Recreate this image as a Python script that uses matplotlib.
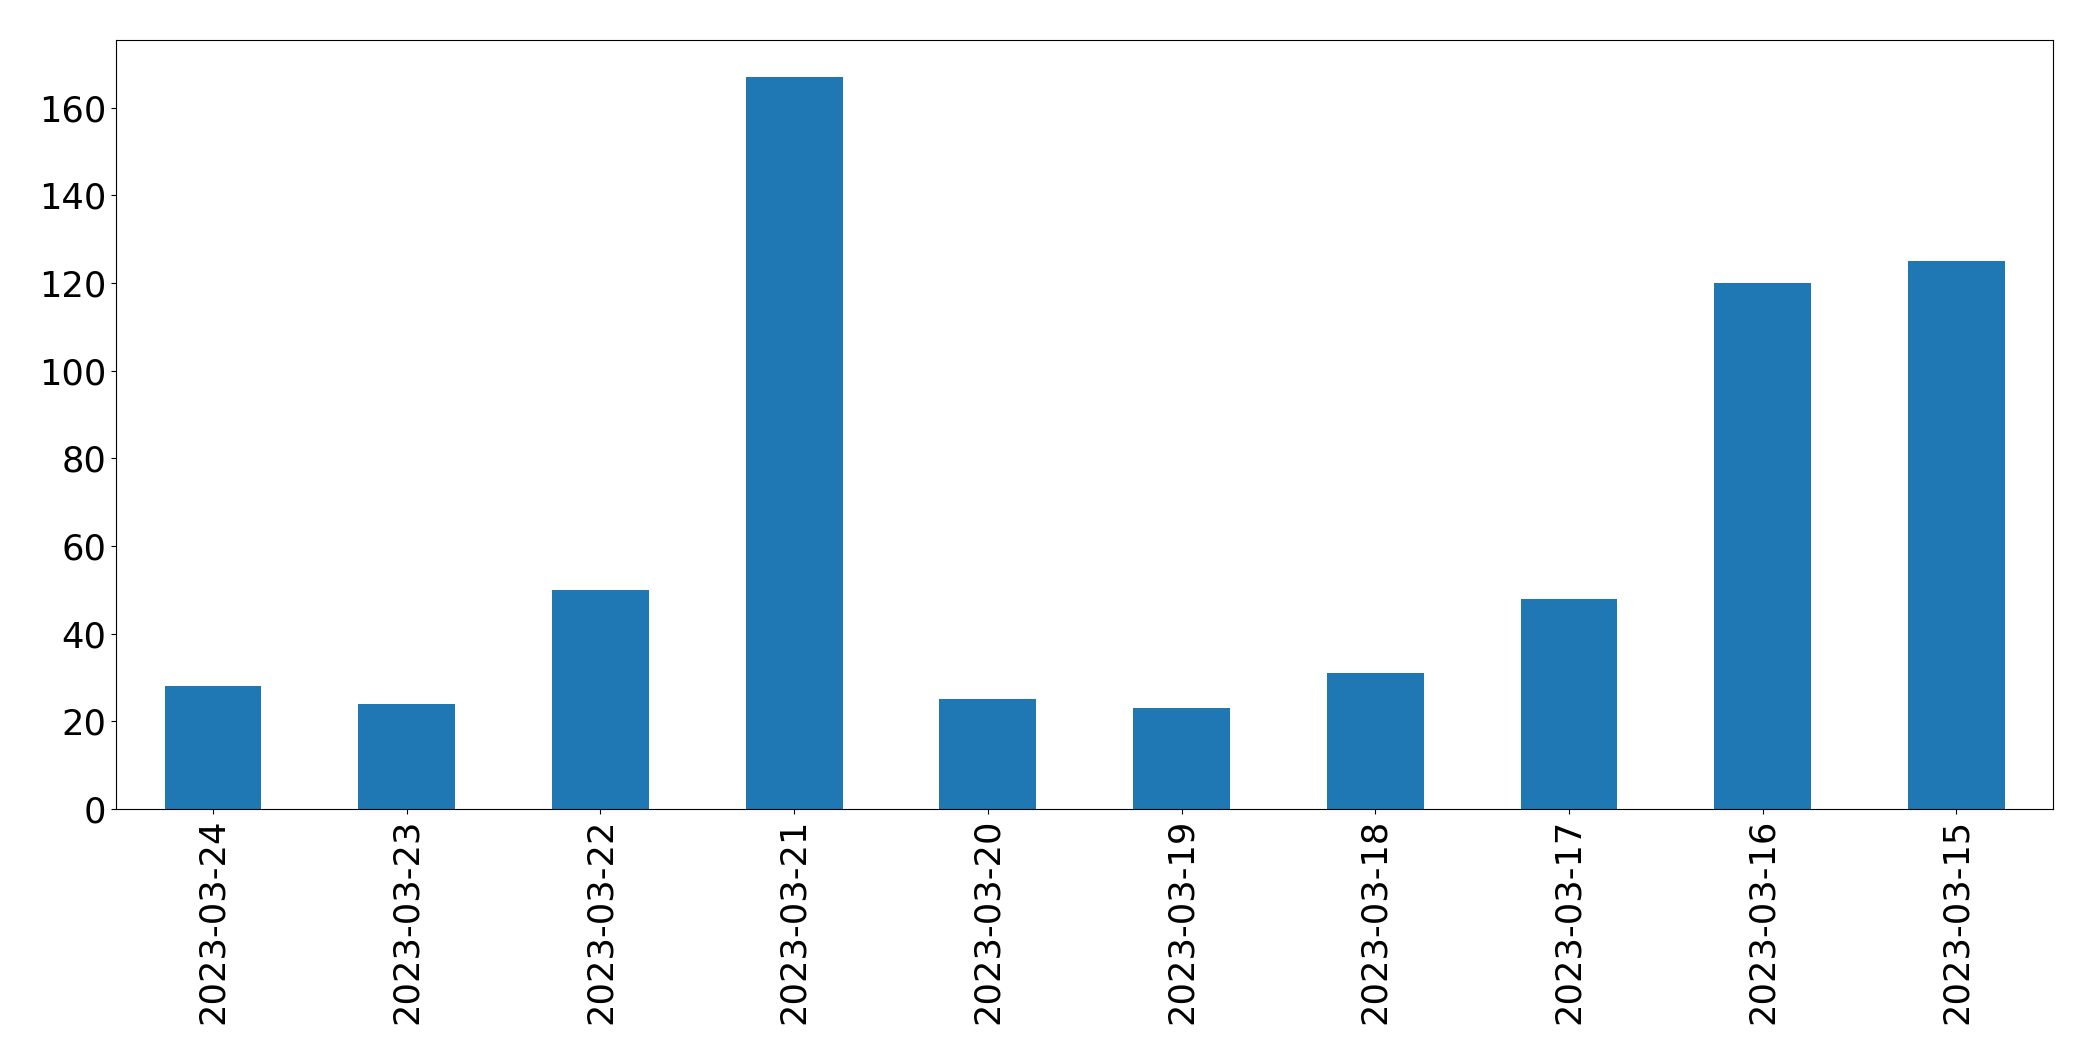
import matplotlib
matplotlib.use("Agg")
import matplotlib.pyplot as plt
import numpy as np

dates = ["2023-03-24", "2023-03-23", "2023-03-22", "2023-03-21", "2023-03-20",
         "2023-03-19", "2023-03-18", "2023-03-17", "2023-03-16", "2023-03-15"]
counts = [28, 24, 50, 167, 25, 23, 31, 48, 120, 125]

fig = plt.figure(figsize=(20.93, 10.61), dpi=100)
ax = fig.add_axes([0.0555, 0.2375, 0.9255, 0.7245])
x = np.arange(len(dates))
ax.bar(x, counts, width=0.5, color="#1f77b4")
ax.set_xlim(-0.5, len(dates) - 0.5)
ax.set_ylim(0, max(counts) * 1.05)
ax.set_xticks(x)
ax.set_xticklabels(dates, rotation=90)
ax.tick_params(labelsize=25.4)
fig.savefig("out.png", dpi=100)
